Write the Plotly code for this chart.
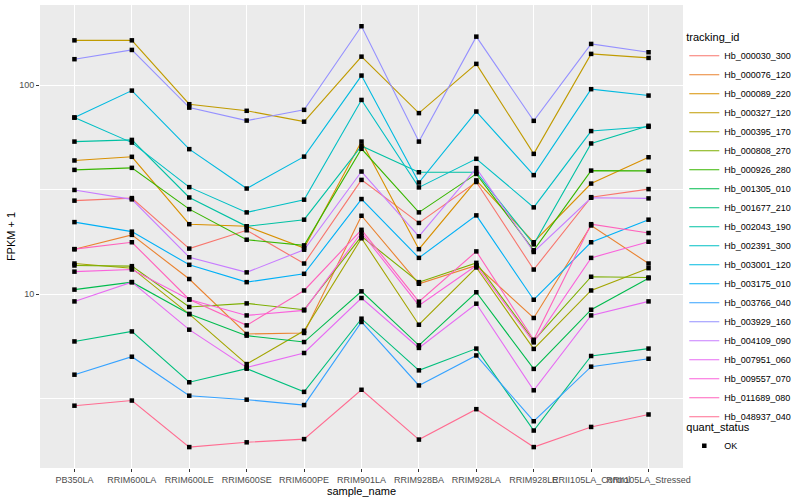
import plotly.graph_objects as go

samples = ["PB350LA", "RRIM600LA", "RRIM600LE", "RRIM600SE", "RRIM600PE", "RRIM901LA",
           "RRIM928BA", "RRIM928LA", "RRIM928LE", "RRII105LA_Control", "RRII105LA_Stressed"]

tracking_ids = ["Hb_000030_300", "Hb_000076_120", "Hb_000089_220", "Hb_000327_120", "Hb_000395_170",
                "Hb_000808_270", "Hb_000926_280", "Hb_001305_010", "Hb_001677_210", "Hb_002043_190",
                "Hb_002391_300", "Hb_003001_120", "Hb_003175_010", "Hb_003766_040", "Hb_003929_160",
                "Hb_004109_090", "Hb_007951_060", "Hb_009557_070", "Hb_011689_080", "Hb_048937_040"]

# FPKM + 1 values, one list per tracking_id, in sample order
hb_000030_300 = [28.0, 28.8, 16.5, 20.2, 14.0, 35.2, 21.9, 34.4, 13.1, 29.1, 31.8]
hb_000076_120 = [16.4, 19.2, 11.8, 6.44, 6.51, 23.7, 11.2, 13.7, 7.68, 21.3, 14.0]
hb_000089_220 = [43.6, 45.4, 21.6, 21.1, 16.6, 53.7, 16.4, 35.0, 17.7, 33.8, 45.2]
hb_000327_120 = [164.0, 164.0, 81.1, 75.4, 66.9, 137.0, 73.5, 126.5, 46.9, 141.2, 135.1]
hb_000395_170 = [14.0, 13.3, 8.02, 4.62, 6.67, 18.5, 7.13, 13.4, 5.46, 10.4, 13.3]
hb_000808_270 = [13.7, 13.6, 8.67, 9.02, 8.41, 18.9, 11.4, 14.1, 5.98, 12.1, 12.0]
hb_000926_280 = [39.3, 40.2, 25.5, 18.2, 17.1, 49.6, 24.6, 37.6, 16.2, 39.0, 38.9]
hb_001305_010 = [10.5, 11.4, 8.02, 6.32, 5.89, 10.3, 5.68, 10.2, 4.38, 8.41, 11.9]
hb_001677_210 = [5.93, 6.62, 3.78, 4.39, 3.40, 7.62, 4.31, 5.48, 2.22, 5.05, 5.48]
hb_002043_190 = [53.7, 54.7, 29.0, 21.1, 22.7, 51.2, 38.3, 38.3, 17.3, 52.6, 63.9]
hb_002391_300 = [70.0, 53.1, 32.5, 24.6, 28.3, 85.0, 32.4, 44.4, 26.0, 60.3, 63.2]
hb_003001_120 = [70.0, 94.2, 49.4, 32.0, 45.5, 111.2, 34.2, 74.8, 37.1, 95.7, 89.2]
hb_003175_010 = [22.1, 19.9, 13.8, 11.4, 12.5, 28.5, 14.9, 23.8, 9.39, 17.7, 22.7]
hb_003766_040 = [4.11, 5.01, 3.26, 3.12, 2.94, 7.35, 3.65, 5.08, 2.46, 4.49, 4.90]
hb_003929_160 = [133.2, 147.5, 78.1, 67.7, 76.2, 191.6, 53.7, 170.8, 67.5, 157.6, 143.8]
hb_004109_090 = [31.5, 28.4, 15.0, 12.7, 16.3, 38.6, 18.9, 40.1, 15.9, 28.9, 28.7]
hb_007951_060 = [9.22, 11.4, 6.75, 4.45, 5.22, 9.57, 5.52, 8.99, 3.46, 7.90, 9.22]
hb_009557_070 = [12.8, 13.1, 9.42, 7.90, 8.35, 19.7, 8.82, 13.7, 5.87, 14.9, 17.8]
hb_011689_080 = [16.4, 17.7, 9.42, 7.08, 10.4, 20.3, 9.19, 16.0, 6.04, 21.6, 19.6]
hb_048937_040 = [2.92, 3.09, 1.85, 1.95, 2.02, 3.48, 2.01, 2.81, 1.85, 2.31, 2.65]

series = [hb_000030_300, hb_000076_120, hb_000089_220, hb_000327_120, hb_000395_170,
          hb_000808_270, hb_000926_280, hb_001305_010, hb_001677_210, hb_002043_190,
          hb_002391_300, hb_003001_120, hb_003175_010, hb_003766_040, hb_003929_160,
          hb_004109_090, hb_007951_060, hb_009557_070, hb_011689_080, hb_048937_040]

colors = ["#F8766D", "#EA8331", "#D89000", "#C09B00", "#A3A500", "#7CAE00", "#39B600", "#00BB4E",
          "#00BF7D", "#00C1A3", "#00BFC4", "#00BAE0", "#00B0F6", "#35A2FF", "#9590FF", "#C77CFF",
          "#E76BF3", "#FA62DB", "#FF62BC", "#FF6C91"]

y_ticks = [10, 100]
y_minor = [3.1623, 31.623]

fig = go.Figure()
for i, (name, vals) in enumerate(zip(tracking_ids, series)):
    fig.add_trace(go.Scatter(
        x=samples, y=vals, mode="lines", name=name,
        line=dict(color=colors[i], width=1.1),
        legend="legend",
    ))

all_x = [s for vals in series for s in samples]
all_y = [v for vals in series for v in vals]
fig.add_trace(go.Scatter(
    x=all_x, y=all_y, mode="markers", name="OK",
    marker=dict(symbol="square", size=4.5, color="black"),
    legend="legend2",
))

fig.update_layout(
    width=800, height=500,
    margin=dict(l=40, r=117, t=5, b=32, autoexpand=False),
    paper_bgcolor="white",
    plot_bgcolor="#EBEBEB",
    font=dict(family="Liberation Sans, Arial, sans-serif", size=9, color="black"),
    showlegend=True,
    legend=dict(
        title=dict(text="tracking_id", font=dict(size=11, color="black")),
        x=1.002, xanchor="left", y=0.9525, yanchor="top",
        font=dict(size=9, color="black"),
        bgcolor="rgba(0,0,0,0)",
        itemwidth=30, tracegroupgap=0,
    ),
    legend2=dict(
        title=dict(text="quant_status", font=dict(size=11, color="black")),
        x=1.002, xanchor="left", y=0.11, yanchor="top",
        font=dict(size=9, color="black"),
        bgcolor="rgba(0,0,0,0)",
        itemwidth=30,
    ),
)

fig.update_xaxes(
    type="category", categoryorder="array", categoryarray=samples,
    range=[-0.6, len(samples) - 0.4],
    showgrid=True, gridcolor="white", gridwidth=1.1,
    ticks="outside", ticklen=3, tickcolor="#333333", tickwidth=1,
    tickangle=0,
    tickfont=dict(size=9, color="#4D4D4D"),
    title=dict(text="sample_name", font=dict(size=11, color="black"), standoff=2),
    zeroline=False, showline=False,
)

fig.update_yaxes(
    type="log", range=[0.167, 2.384],
    tickmode="array", tickvals=y_ticks, ticktext=[str(t) for t in y_ticks],
    showgrid=True, gridcolor="white", gridwidth=1.1,
    minor=dict(tickmode="array", tickvals=y_minor, showgrid=True, gridcolor="white", gridwidth=0.55, ticklen=0),
    ticks="outside", ticklen=3, tickcolor="#333333", tickwidth=1,
    tickfont=dict(size=9, color="#4D4D4D"),
    title=dict(text="FPKM + 1", font=dict(size=11, color="black"), standoff=1),
    zeroline=False, showline=False,
)

fig.write_html("out.html", post_script="document.body.style.margin='0';",
               config={"displayModeBar": False})
